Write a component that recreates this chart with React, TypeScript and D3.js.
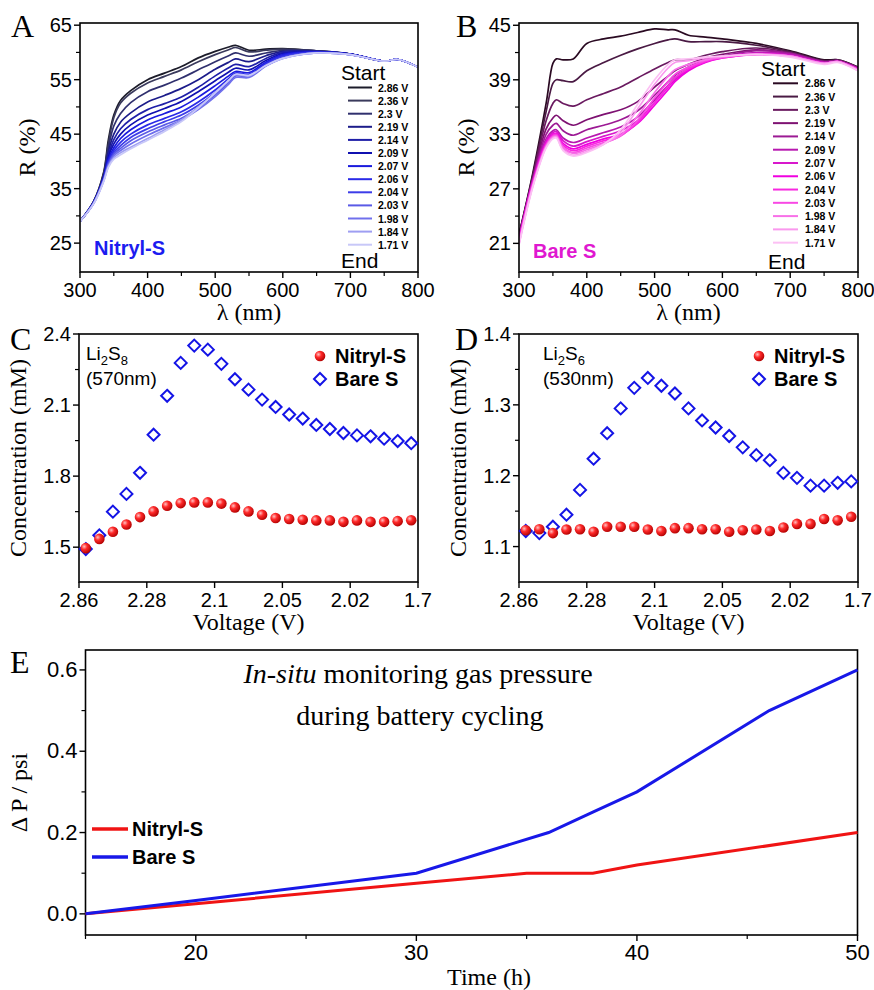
import React from 'react';
import * as d3 from 'd3';

const SANS = "'Liberation Sans', Arial, sans-serif";
const SERIF = "'Liberation Serif', 'Times New Roman', serif";

// ---------- panel A / B : reflectance spectra ----------
const VOLTS = ['2.86 V', '2.36 V', '2.3 V', '2.19 V', '2.14 V', '2.09 V', '2.07 V', '2.06 V', '2.04 V', '2.03 V', '1.98 V', '1.84 V', '1.71 V'];

const NM_A = [300, 320, 335, 342, 350, 360, 375, 400, 425, 450, 475, 500, 520, 530, 550, 575, 600, 650, 700, 750, 770, 800];
const R_A = [
  [29.0, 32.6, 38.0, 44.0, 48.5, 51.2, 53.0, 55.0, 56.2, 57.4, 59.0, 60.2, 61.0, 61.3, 60.4, 60.6, 60.7, 60.3, 59.7, 58.4, 58.7, 57.3],
  [29.0, 32.6, 37.8, 43.3, 48.0, 50.7, 52.5, 54.4, 55.6, 56.8, 58.3, 59.6, 60.5, 60.9, 60.1, 60.4, 60.6, 60.3, 59.7, 58.4, 58.7, 57.3],
  [29.0, 32.5, 37.5, 42.5, 46.5, 48.8, 50.8, 52.8, 54.0, 55.3, 56.8, 58.3, 59.4, 59.9, 59.3, 59.9, 60.4, 60.3, 59.7, 58.4, 58.7, 57.3],
  [29.0, 32.5, 37.3, 41.8, 45.0, 47.2, 48.9, 50.9, 52.1, 53.4, 55.0, 56.9, 58.2, 58.8, 58.3, 59.4, 60.2, 60.2, 59.7, 58.4, 58.7, 57.3],
  [29.0, 32.5, 37.2, 41.2, 44.0, 46.0, 47.7, 49.5, 50.6, 51.8, 53.6, 55.7, 57.2, 57.8, 57.4, 58.9, 60.0, 60.2, 59.7, 58.4, 58.7, 57.3],
  [29.0, 32.4, 37.0, 40.8, 43.2, 45.0, 46.7, 48.5, 49.7, 51.0, 52.8, 54.8, 56.4, 57.1, 56.8, 58.5, 59.8, 60.1, 59.7, 58.4, 58.7, 57.3],
  [29.0, 32.4, 36.9, 40.4, 42.5, 44.2, 45.8, 47.6, 48.8, 50.0, 51.8, 53.9, 55.7, 56.5, 56.3, 58.2, 59.6, 60.1, 59.7, 58.4, 58.7, 57.3],
  [29.0, 32.4, 36.8, 40.0, 42.0, 43.5, 45.0, 46.7, 47.9, 49.1, 50.9, 53.1, 55.2, 56.2, 56.0, 58.0, 59.4, 60.0, 59.6, 58.4, 58.7, 57.3],
  [29.0, 32.3, 36.7, 39.7, 41.6, 42.9, 44.4, 46.0, 47.3, 48.5, 50.3, 52.6, 54.8, 55.9, 55.8, 57.8, 59.2, 60.0, 59.6, 58.4, 58.7, 57.3],
  [29.0, 32.3, 36.6, 39.5, 41.3, 42.4, 43.8, 45.4, 46.7, 47.9, 49.8, 52.2, 54.5, 55.7, 55.6, 57.6, 59.0, 59.9, 59.6, 58.4, 58.7, 57.3],
  [29.0, 32.3, 36.5, 39.3, 41.0, 42.0, 43.2, 44.8, 46.2, 47.6, 49.5, 51.9, 54.2, 55.4, 55.4, 57.5, 58.9, 59.9, 59.6, 58.4, 58.7, 57.3],
  [29.0, 32.2, 36.4, 39.1, 40.7, 41.6, 42.6, 44.2, 45.8, 47.6, 50.0, 52.5, 54.8, 55.9, 55.7, 57.6, 58.9, 59.9, 59.6, 58.4, 58.7, 57.3],
  [29.0, 32.2, 36.3, 38.9, 40.4, 41.2, 42.3, 43.9, 45.5, 47.3, 49.8, 52.6, 54.9, 56.0, 55.8, 57.6, 58.9, 59.9, 59.6, 58.4, 58.7, 57.3],
];
const COLORS_A = ['#1c1c2a', '#3a3a5c', '#30306e', '#1c1c8a', '#1f1fa8', '#1010b0', '#1a1add', '#2a2ae8', '#3c3ce8', '#5a5ae6', '#7070ec', '#9e9ef2', '#c8c8f8'];

const NM_B = [300, 320, 340, 350, 355, 365, 380, 400, 425, 450, 475, 500, 520, 530, 550, 575, 600, 650, 700, 750, 770, 800];
const R_B = [
  [22.0, 28.6, 36.4, 40.8, 41.3, 41.2, 41.3, 43.0, 43.5, 43.8, 44.2, 44.6, 44.5, 44.5, 43.9, 43.7, 43.5, 43.0, 42.2, 41.2, 41.2, 40.4],
  [21.9, 28.4, 35.5, 38.6, 39.0, 38.9, 38.8, 40.0, 40.9, 41.7, 42.4, 43.0, 43.4, 43.5, 43.2, 43.2, 43.2, 42.8, 42.1, 41.1, 41.2, 40.4],
  [21.8, 28.2, 34.5, 36.4, 36.8, 36.4, 36.1, 36.8, 37.5, 38.2, 39.2, 40.2, 40.9, 41.2, 41.2, 41.7, 42.1, 42.5, 42.0, 41.0, 41.1, 40.3],
  [21.7, 28.0, 33.6, 34.8, 35.1, 34.5, 34.0, 34.6, 35.2, 35.7, 36.6, 38.2, 39.4, 40.0, 40.7, 41.4, 41.8, 42.3, 41.9, 41.0, 41.1, 40.3],
  [21.6, 27.9, 33.0, 34.0, 34.2, 33.4, 32.9, 33.5, 34.0, 34.6, 35.6, 37.3, 38.8, 39.5, 40.4, 41.2, 41.6, 42.2, 41.9, 41.0, 41.1, 40.3],
  [21.5, 27.8, 32.5, 33.4, 33.5, 32.6, 32.1, 32.6, 33.2, 33.8, 34.9, 36.8, 38.4, 39.2, 40.2, 41.0, 41.5, 42.0, 41.8, 40.9, 41.0, 40.2],
  [21.4, 27.7, 32.2, 33.2, 33.3, 32.3, 31.7, 32.2, 32.8, 33.4, 34.5, 36.5, 38.2, 39.0, 40.1, 41.0, 41.5, 41.9, 41.7, 40.9, 41.0, 40.2],
  [21.3, 27.6, 32.0, 33.0, 33.1, 32.0, 31.4, 31.9, 32.5, 33.0, 34.2, 36.2, 37.9, 38.8, 40.0, 40.9, 41.4, 41.8, 41.6, 40.8, 41.0, 40.1],
  [21.2, 27.5, 31.9, 32.9, 33.0, 31.8, 31.2, 31.7, 32.3, 32.9, 34.3, 36.5, 38.3, 39.2, 40.2, 41.0, 41.4, 41.8, 41.6, 40.8, 41.0, 40.1],
  [21.1, 27.4, 31.8, 32.8, 32.9, 31.6, 31.0, 31.5, 32.1, 32.8, 34.5, 37.0, 38.8, 39.6, 40.4, 41.1, 41.5, 41.8, 41.6, 40.8, 41.0, 40.1],
  [21.0, 27.3, 31.7, 32.7, 32.8, 31.5, 30.9, 31.3, 32.0, 32.9, 35.0, 37.6, 39.4, 40.1, 40.7, 41.2, 41.5, 41.8, 41.6, 40.8, 41.0, 40.1],
  [20.9, 27.2, 31.6, 32.6, 32.7, 31.3, 30.7, 31.1, 31.9, 33.2, 35.8, 38.5, 40.3, 40.9, 41.1, 41.4, 41.6, 41.8, 41.6, 40.8, 41.0, 40.0],
  [20.8, 27.1, 31.5, 32.5, 32.6, 31.2, 30.6, 31.0, 31.9, 33.5, 36.3, 39.0, 40.7, 41.2, 41.3, 41.5, 41.6, 41.8, 41.5, 40.7, 40.9, 40.0],
];
const COLORS_B = ['#2a0a22', '#4a1a44', '#6a1a60', '#7e1272', '#9c1a94', '#b818b0', '#d818cc', '#f000e0', '#f828e0', '#f848e4', '#f870e8', '#fa98ee', '#fcc0f4'];

const SPEC_X_TICKS = [300, 400, 500, 600, 700, 800];
const SPEC_X_MINOR = [350, 450, 550, 650, 750];
const A_Y_TICKS = [25, 35, 45, 55, 65];
const A_Y_MINOR = [30, 40, 50, 60];
const B_Y_TICKS = [21, 27, 33, 39, 45];
const B_Y_MINOR = [24, 30, 36, 42];

// ---------- panel C / D : concentration vs voltage ----------
const V_LABELS = ['2.86', '2.28', '2.1', '2.05', '2.02', '1.7'];
const C_NITRYL = [1.496, 1.535, 1.565, 1.596, 1.627, 1.651, 1.675, 1.686, 1.689, 1.689, 1.684, 1.668, 1.651, 1.637, 1.623, 1.619, 1.616, 1.613, 1.613, 1.607, 1.613, 1.607, 1.607, 1.61, 1.614];
const C_BARE = [1.492, 1.55, 1.65, 1.725, 1.814, 1.975, 2.139, 2.278, 2.351, 2.334, 2.274, 2.209, 2.165, 2.123, 2.092, 2.06, 2.043, 2.016, 1.999, 1.982, 1.972, 1.968, 1.958, 1.948, 1.939];
const D_NITRYL = [1.123, 1.1245, 1.119, 1.124, 1.1245, 1.121, 1.128, 1.128, 1.128, 1.124, 1.122, 1.126, 1.126, 1.1245, 1.1245, 1.121, 1.123, 1.124, 1.122, 1.127, 1.132, 1.132, 1.139, 1.137, 1.142];
const D_BARE = [1.122, 1.119, 1.128, 1.145, 1.18, 1.224, 1.26, 1.295, 1.324, 1.338, 1.327, 1.316, 1.295, 1.278, 1.268, 1.256, 1.24, 1.229, 1.222, 1.204, 1.197, 1.186, 1.186, 1.19, 1.192];
const C_Y_TICKS = [1.5, 1.8, 2.1, 2.4];
const C_Y_MINOR = [1.65, 1.95, 2.25];
const D_Y_TICKS = [1.1, 1.2, 1.3, 1.4];
const D_Y_MINOR = [1.15, 1.25, 1.35];

// ---------- panel E : gas pressure ----------
const E_T_NITRYL = [15, 20, 30, 35, 38, 40, 50];
const E_P_NITRYL = [0, 0.025, 0.075, 0.1, 0.1, 0.12, 0.2];
const E_T_BARE = [15, 20, 30, 36, 38, 40, 46, 50];
const E_P_BARE = [0, 0.033, 0.1, 0.2, 0.25, 0.3, 0.5, 0.6];
const E_X_TICKS = [20, 30, 40, 50];
const E_X_MINOR = [15, 25, 35, 45];
const E_Y_TICKS = [0, 0.2, 0.4, 0.6];
const E_Y_MINOR = [0.1, 0.3, 0.5];

type Box = { l: number; r: number; t: number; b: number };

function Frame({ box, x, y, xTicks, xMinor, xLabel, yTicks, yMinor, yFmt, xFmt, xTitle, yTitle, yTitleX, tickSize = 20 }: any) {
  const { l, r, t, b } = box;
  return (
    <g>
      <rect x={l} y={t} width={r - l} height={b - t} fill="none" stroke="#000" strokeWidth={1.6} />
      {xTicks.map((v: any, i: number) => (
        <g key={'xt' + i}>
          <line x1={x(v)} x2={x(v)} y1={b} y2={b + 6} stroke="#000" strokeWidth={1.4} />
          <text x={x(v)} y={b + 25} textAnchor="middle" fontFamily={SANS} fontSize={tickSize}>{xLabel ? xLabel[i] : xFmt(v)}</text>
        </g>
      ))}
      {xMinor.map((v: number, i: number) => (
        <line key={'xm' + i} x1={x(v)} x2={x(v)} y1={b} y2={b + 4} stroke="#000" strokeWidth={1.2} />
      ))}
      {yTicks.map((v: number, i: number) => (
        <g key={'yt' + i}>
          <line x1={l - 6} x2={l} y1={y(v)} y2={y(v)} stroke="#000" strokeWidth={1.4} />
          <text x={l - 8} y={y(v) + 7} textAnchor="end" fontFamily={SANS} fontSize={tickSize}>{yFmt(v)}</text>
        </g>
      ))}
      {yMinor.map((v: number, i: number) => (
        <line key={'ym' + i} x1={l - 4} x2={l} y1={y(v)} y2={y(v)} stroke="#000" strokeWidth={1.2} />
      ))}
      <text x={(l + r) / 2} y={b + 48} textAnchor="middle" fontFamily={SERIF} fontSize={24}>{xTitle}</text>
      <text transform={`translate(${yTitleX},${(t + b) / 2}) rotate(-90)`} textAnchor="middle" fontFamily={SERIF} fontSize={24}>{yTitle}</text>
    </g>
  );
}

function Spectra({ box, nm, data, colors, yDomain, yTicks, yMinor, letter, letterX, tag, tagColor, tagX, tagY, leg }: any) {
  const x = d3.scaleLinear().domain([300, 800]).range([box.l, box.r]);
  const y = d3.scaleLinear().domain(yDomain).range([box.b, box.t]);
  const line = d3.line<number>().x((_, i) => x(nm[i])).y(d => y(d)).curve(d3.curveCatmullRom.alpha(0.5));
  return (
    <g>
      <defs>
        <clipPath id={'clip' + letter}><rect x={box.l} y={box.t} width={box.r - box.l} height={box.b - box.t} /></clipPath>
      </defs>
      <g clipPath={`url(#clip${letter})`}>
        {data.map((s: number[], i: number) => (
          <path key={i} d={line(s) || ''} fill="none" stroke={colors[i]} strokeWidth={1.7} />
        ))}
      </g>
      <Frame box={box} x={x} y={y} xTicks={SPEC_X_TICKS} xMinor={SPEC_X_MINOR} xFmt={(v: number) => String(v)}
        yTicks={yTicks} yMinor={yMinor} yFmt={(v: number) => String(v)} xTitle="λ (nm)" yTitle="R (%)" yTitleX={box.l - 45} />
      <text x={letterX} y={37} fontFamily={SERIF} fontSize={32}>{letter}</text>
      <text x={tagX} y={tagY} fontFamily={SANS} fontSize={20} fontWeight="bold" fill={tagColor}>{tag}</text>
      <text x={leg.startX} y={leg.startY} fontFamily={SANS} fontSize={21}>Start</text>
      {VOLTS.map((v, i) => (
        <g key={v}>
          <line x1={leg.x1} x2={leg.x2} y1={leg.y0 + i * leg.dy} y2={leg.y0 + i * leg.dy} stroke={colors[i]} strokeWidth={2} />
          <text x={leg.tx} y={leg.y0 + i * leg.dy + 4} fontFamily={SANS} fontSize={10.5} fontWeight="bold">{v}</text>
        </g>
      ))}
      <text x={leg.endX} y={leg.endY} fontFamily={SANS} fontSize={21}>End</text>
    </g>
  );
}

function Scatter({ box, nitryl, bare, yDomain, yTicks, yMinor, letter, letterX, species, sub1, sub2, wl, textX, legX }: any) {
  const x = d3.scaleLinear().domain([-0.5, nitryl.length - 0.5]).range([box.l, box.r]);
  const y = d3.scaleLinear().domain(yDomain).range([box.b, box.t]);
  const tickPos = V_LABELS.map((_, i) => -0.5 + i * 5);
  const diamond = 'M0,-6L6,0L0,6L-6,0Z';
  return (
    <g>
      <Frame box={box} x={x} y={y} xTicks={tickPos} xMinor={[]} xLabel={V_LABELS}
        yTicks={yTicks} yMinor={yMinor} yFmt={(v: number) => String(v)} xTitle="Voltage (V)" yTitle="Concentration (mM)" yTitleX={box.l - 53} />
      {bare.map((v: number, i: number) => (
        <path key={'b' + i} d={diamond} transform={`translate(${x(i)},${y(v)})`} fill="#fff" stroke="#1414e6" strokeWidth={2} />
      ))}
      {nitryl.map((v: number, i: number) => (
        <circle key={'n' + i} cx={x(i)} cy={y(v)} r={5.3} fill="url(#redBall)" />
      ))}
      <text x={letterX} y={350} fontFamily={SERIF} fontSize={32}>{letter}</text>
      <text x={textX} y={360} fontFamily={SANS} fontSize={19}>
        {species}<tspan fontSize={13} dy={5}>{sub1}</tspan><tspan dy={-5}>S</tspan><tspan fontSize={13} dy={5}>{sub2}</tspan>
      </text>
      <text x={textX} y={385} fontFamily={SANS} fontSize={19}>{wl}</text>
      <circle cx={legX} cy={356} r={5.3} fill="url(#redBall)" />
      <text x={legX + 15} y={363} fontFamily={SANS} fontSize={20} fontWeight="bold">Nitryl-S</text>
      <path d={diamond} transform={`translate(${legX},${379})`} fill="#fff" stroke="#1414e6" strokeWidth={2} />
      <text x={legX + 15} y={386} fontFamily={SANS} fontSize={20} fontWeight="bold">Bare S</text>
    </g>
  );
}

function Pressure() {
  const box: Box = { l: 85.5, r: 857.5, t: 650, b: 935 };
  const x = d3.scaleLinear().domain([15, 50]).range([box.l, box.r]);
  const y = d3.scaleLinear().domain([-0.052, 0.649]).range([box.b, box.t]);
  const line = d3.line<[number, number]>().x(d => x(d[0])).y(d => y(d[1]));
  const nitryl = E_T_NITRYL.map((t, i) => [t, E_P_NITRYL[i]] as [number, number]);
  const bare = E_T_BARE.map((t, i) => [t, E_P_BARE[i]] as [number, number]);
  return (
    <g>
      <Frame box={box} x={x} y={y} xTicks={E_X_TICKS} xMinor={E_X_MINOR} xFmt={(v: number) => String(v)}
        yTicks={E_Y_TICKS} yMinor={E_Y_MINOR} yFmt={(v: number) => v.toFixed(1)} xTitle="" yTitle="Δ P / psi" yTitleX={27} tickSize={22} />
      <text x={489} y={985} textAnchor="middle" fontFamily={SERIF} fontSize={24}>Time (h)</text>
      <path d={line(nitryl) || ''} fill="none" stroke="#f01414" strokeWidth={3} />
      <path d={line(bare) || ''} fill="none" stroke="#1818e8" strokeWidth={3} />
      <text x={10} y={673} fontFamily={SERIF} fontSize={32}>E</text>
      <text x={418} y={683} textAnchor="middle" fontFamily={SERIF} fontSize={28}>
        <tspan fontStyle="italic">In-situ</tspan> monitoring gas pressure
      </text>
      <text x={420} y={725} textAnchor="middle" fontFamily={SERIF} fontSize={28}>during battery cycling</text>
      <line x1={92} x2={128} y1={829} y2={829} stroke="#f01414" strokeWidth={3.5} />
      <text x={132} y={836} fontFamily={SANS} fontSize={20} fontWeight="bold">Nitryl-S</text>
      <line x1={92} x2={128} y1={857} y2={857} stroke="#1818e8" strokeWidth={3.5} />
      <text x={132} y={864} fontFamily={SANS} fontSize={20} fontWeight="bold">Bare S</text>
    </g>
  );
}

export default function App() {
  return (
    <svg width={874} height={990} style={{ position: 'absolute', left: 0, top: 0, background: '#fff' }}>
      <defs>
        <radialGradient id="redBall" cx="35%" cy="35%" r="70%">
          <stop offset="0%" stopColor="#ffc0c0" />
          <stop offset="40%" stopColor="#ff2a2a" />
          <stop offset="100%" stopColor="#b00000" />
        </radialGradient>
      </defs>
      <rect width={874} height={990} fill="#fff" />
      <Spectra box={{ l: 80, r: 418, t: 23, b: 272 }} nm={NM_A} data={R_A} colors={COLORS_A} yDomain={[19.7, 65.4]}
        yTicks={A_Y_TICKS} yMinor={A_Y_MINOR} letter="A" letterX={11} tag="Nitryl-S" tagColor="#1c1cf0" tagX={94} tagY={255}
        leg={{ startX: 341, startY: 80, x1: 348, x2: 372, tx: 378, y0: 87.5, dy: 13.1, endX: 341, endY: 268 }} />
      <Spectra box={{ l: 519, r: 858, t: 23, b: 272 }} nm={NM_B} data={R_B} colors={COLORS_B} yDomain={[17.85, 45.25]}
        yTicks={B_Y_TICKS} yMinor={B_Y_MINOR} letter="B" letterX={456} tag="Bare S" tagColor="#e018d0" tagX={533} tagY={258}
        leg={{ startX: 761, startY: 76, x1: 773, x2: 798, tx: 805, y0: 83.3, dy: 13.28, endX: 768, endY: 269 }} />
      <Scatter box={{ l: 79, r: 418, t: 334, b: 582 }} nitryl={C_NITRYL} bare={C_BARE} yDomain={[1.353, 2.4]}
        yTicks={C_Y_TICKS} yMinor={C_Y_MINOR} letter="C" letterX={10} species="Li" sub1="2" sub2="8" wl="(570nm)" textX={86} legX={320} />
      <Scatter box={{ l: 519, r: 858, t: 334, b: 582 }} nitryl={D_NITRYL} bare={D_BARE} yDomain={[1.05, 1.4]}
        yTicks={D_Y_TICKS} yMinor={D_Y_MINOR} letter="D" letterX={455} species="Li" sub1="2" sub2="6" wl="(530nm)" textX={543} legX={759} />
      <Pressure />
    </svg>
  );
}
